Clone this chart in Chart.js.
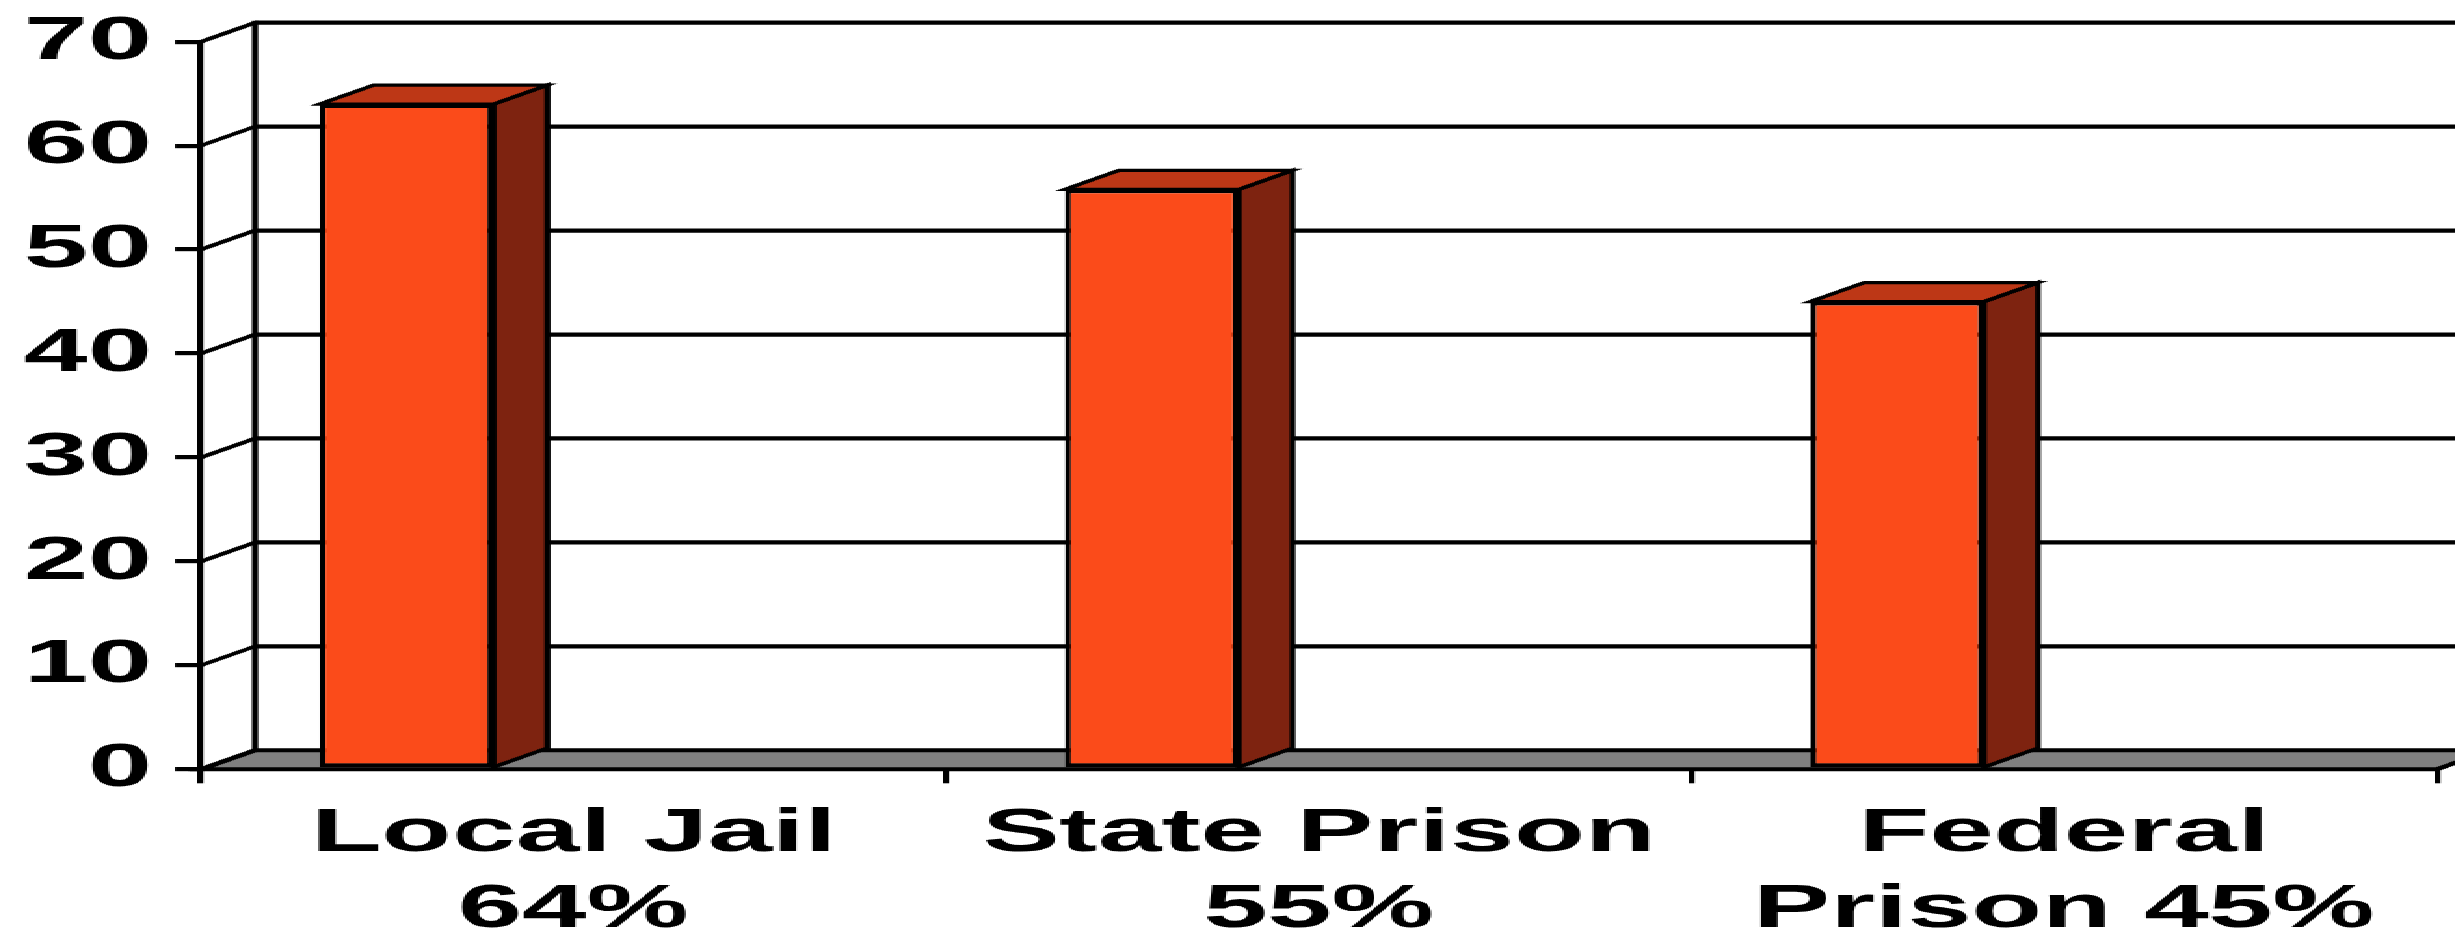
<!DOCTYPE html>
<html>
<head>
<meta charset="utf-8">
<script src="https://cdn.jsdelivr.net/npm/chart.js@4.4.1/dist/chart.umd.min.js"></script>
<style>
  html, body { margin: 0; padding: 0; background: #fff; overflow: hidden; }
  #chart { image-rendering: pixelated; }
</style>
</head>
<body>
<!-- the original picture is stretched sideways, so the canvas is drawn narrow and widened by css -->
<canvas id="chart" width="1320" height="941" style="width:2455px;height:941px"></canvas>
<script>
var categories = [['Local Jail', '64%'], ['State Prison', '55%'], ['Federal', 'Prison 45%']];
var values = [64, 55.8, 45]; // heights as drawn in the picture
var emptySeries = [null, null, null]; // keeps the columns in the front half of each slot
var yTicks = [0, 10, 20, 30, 40, 50, 60, 70];

var DX = 29, DY = -19; // depth of the fake 3d
var FRONT = '#fb4b1a', SIDE = '#7e2310', TOP = '#bd3716', FLOOR = '#808080';
var labelFont = { family: "'Liberation Sans', Arial, sans-serif", size: 62, weight: 'bold', lineHeight: 1.23 };

function poly(ctx, pts, fill, lw) {
    ctx.save();
    ctx.beginPath();
    ctx.moveTo(pts[0][0], pts[0][1]);
    for (var i = 1; i < pts.length; i++) ctx.lineTo(pts[i][0], pts[i][1]);
    ctx.closePath();
    ctx.fillStyle = fill;
    ctx.fill();
    ctx.lineWidth = lw;
    ctx.strokeStyle = '#000';
    ctx.stroke();
    ctx.restore();
}

var depthPlugin = {
    id: 'depth',
    beforeDatasetsDraw: function (chart) {
        var ctx = chart.ctx, a = chart.chartArea, y = chart.scales.y;
        var y0 = y.getPixelForValue(0);
        // floor
        poly(ctx, [[a.left, y0], [a.right, y0], [a.right + DX, y0 + DY], [a.left + DX, y0 + DY]], FLOOR, 4);
        ctx.save();
        ctx.strokeStyle = '#000';
        // side wall diagonals and back wall gridlines
        yTicks.forEach(function (v) {
            if (v === 0) return;
            var py = y.getPixelForValue(v);
            ctx.lineWidth = 3.5;
            ctx.beginPath(); ctx.moveTo(a.left, py); ctx.lineTo(a.left + DX, py + DY); ctx.stroke();
            ctx.lineWidth = 4.2;
            ctx.beginPath(); ctx.moveTo(a.left + DX, py + DY); ctx.lineTo(chart.width + 10, py + DY); ctx.stroke();
        });
        var top = y.getPixelForValue(y.max);
        ctx.lineWidth = 3.2;
        ctx.beginPath(); ctx.moveTo(a.left + DX, top + DY - 2); ctx.lineTo(a.left + DX, y0 + DY); ctx.stroke();
        ctx.restore();
    },
    afterDatasetsDraw: function (chart) {
        var ctx = chart.ctx;
        chart.getDatasetMeta(0).data.forEach(function (bar) {
            var p = bar.getProps(['x', 'y', 'base', 'width'], true);
            var l = p.x - p.width / 2, r = p.x + p.width / 2;
            poly(ctx, [[r, p.y], [r + DX, p.y + DY], [r + DX, p.base + DY], [r, p.base]], SIDE, 3.2);
            poly(ctx, [[l, p.y], [l + DX, p.y + DY], [r + DX, p.y + DY], [r, p.y]], TOP, 3.2);
        });
    }
};

var ctx = document.getElementById('chart').getContext('2d');
var chart = new Chart(ctx, {
    type: 'bar',
    data: {
        labels: categories,
        datasets: [{
            label: 'Share',
            data: values,
            backgroundColor: FRONT,
            borderColor: '#000',
            borderWidth: { top: 4, left: 3.2, right: 3.2, bottom: 4 },
            borderSkipped: false,
            categoryPercentage: 0.8965,
            barPercentage: 0.52
        }, {
            label: '',
            data: emptySeries,
            categoryPercentage: 0.8965,
            barPercentage: 0.52
        }]
    },
    options: {
        responsive: false,
        animation: false,
        devicePixelRatio: 1,
        layout: { padding: { top: 41.7, right: 9.78, left: 0, bottom: 0 } },
        plugins: { legend: { display: false }, tooltip: { enabled: false } },
        scales: {
            x: {
                offset: true,
                grid: { drawOnChartArea: false, drawTicks: true, tickLength: 14, lineWidth: 3.2, color: '#000', offset: true },
                border: { display: true, color: '#000', width: 4 },
                ticks: { color: '#000', font: labelFont, padding: 12.6, maxRotation: 0, autoSkip: false },
                afterFit: function (s) { s.height = 171.7; }
            },
            y: {
                min: 0,
                max: 70,
                afterBuildTicks: function (s) {
                    s.ticks = yTicks.map(function (v) { return { value: v }; });
                },
                grid: { drawOnChartArea: false, drawTicks: true, tickLength: 14, lineWidth: 4.2, color: '#000' },
                border: { display: true, color: '#000', width: 3.2 },
                ticks: { color: '#000', font: { family: labelFont.family, size: 62, weight: 'bold' }, padding: 12.4 },
                afterFit: function (s) {
                    s.width = 108.06;
                    s.paddingTop = 0;
                    s.paddingBottom = 0;
                }
            }
        }
    },
    plugins: [depthPlugin]
});
</script>
</body>
</html>
